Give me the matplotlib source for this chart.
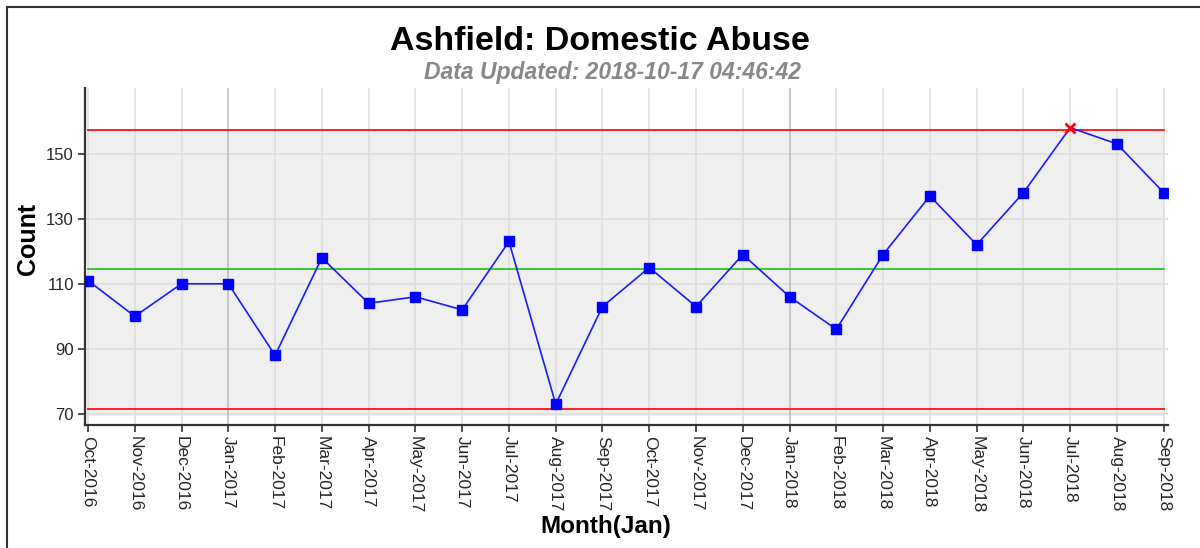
import matplotlib.pyplot as plt
from matplotlib.lines import Line2D

plt.rcParams['font.family'] = ['Liberation Sans', 'DejaVu Sans']

# данные
months = ['Oct-2016', 'Nov-2016', 'Dec-2016', 'Jan-2017', 'Feb-2017', 'Mar-2017',
          'Apr-2017', 'May-2017', 'Jun-2017', 'Jul-2017', 'Aug-2017', 'Sep-2017',
          'Oct-2017', 'Nov-2017', 'Dec-2017', 'Jan-2018', 'Feb-2018', 'Mar-2018',
          'Apr-2018', 'May-2018', 'Jun-2018', 'Jul-2018', 'Aug-2018', 'Sep-2018']
counts = [111, 100, 110, 110, 88, 118, 104, 106, 102, 123, 73, 103,
          115, 103, 119, 106, 96, 119, 137, 122, 138, 158, 153, 138]
centre = 114.4
upper = 157.3
lower = 71.5
y_ticks = [70, 90, 110, 130, 150]

title = 'Ashfield: Domestic Abuse'
subtitle = 'Data Updated: 2018-10-17 04:46:42'

fig = plt.figure(figsize=(12, 5.48), dpi=100)
ax = fig.add_axes([0.0708, 0.2245, 0.9025, 0.615])

x = list(range(len(months)))
n_last = len(months) - 1

# серая зона между контрольными пределами
ax.fill_between([0, n_last], 69.5, upper, color='#efefef', zorder=0, lw=0)

# сетка
for yt in y_ticks:
    ax.axhline(yt, color='#dedede', lw=1.2, zorder=1)
for i, m in enumerate(months):
    c = '#bdbdbd' if m.startswith('Jan') else '#dedede'
    ax.axvline(i, color=c, lw=1.2, zorder=1)

ax.plot([0, n_last], [upper, upper], color='#ff2020', lw=1.4, zorder=2)
ax.plot([0, n_last], [lower, lower], color='#ff2020', lw=1.4, zorder=2)
ax.plot([0, n_last], [centre, centre], color='#33cc33', lw=1.4, zorder=2)

ax.plot(x, counts, color='#1a1aff', lw=1.2, zorder=3)
inside = [i for i in x if lower <= counts[i] <= upper]
outside = [i for i in x if not (lower <= counts[i] <= upper)]
ax.plot(inside, [counts[i] for i in inside], ls='none', marker='s', ms=7.5,
        color='#0000ff', zorder=4)
ax.plot(outside, [counts[i] for i in outside], ls='none', marker='x', ms=7,
        mew=2, color='#ff0000', zorder=4)

ax.set_xlim(-0.065, n_last + 0.09)
ax.set_ylim(66.6, 170.2)
ax.set_xticks(x)
ax.set_xticklabels(months, rotation=270, fontsize=12.5, color='#262626')
ax.set_yticks(y_ticks)
ax.set_yticklabels([str(v) for v in y_ticks], fontsize=12, color='#262626')
ax.tick_params(direction='out', length=5, width=1.2, color='#333333', pad=3)

ax.set_facecolor('white')
for s in ['top', 'right']:
    ax.spines[s].set_visible(False)
for s in ['left', 'bottom']:
    ax.spines[s].set_color('#333333')
    ax.spines[s].set_linewidth(1.6)

fig.text(0.5, 0.924, title, ha='center', va='center', fontsize=24.5,
         fontweight='bold', color='black')
fig.text(612 / 1200, 0.868, subtitle, ha='center', va='center', fontsize=16.5,
         fontweight='bold', fontstyle='italic', color='#888888')
fig.text(28 / 1200, 1 - 239 / 548, 'Count', rotation=90, ha='center', va='center',
         fontsize=18, fontweight='bold')
fig.text(606 / 1200, 1 - 527 / 548, 'Month(Jan)', ha='center', va='center',
         fontsize=17.5, fontweight='bold')

# рамка слева и сверху
fig.add_artist(Line2D([7 / 1200, 7 / 1200], [0, 1 - 7 / 548], color='#333333', lw=1.5))
fig.add_artist(Line2D([7 / 1200, 1], [1 - 7 / 548, 1 - 7 / 548], color='#333333', lw=1.5))

plt.savefig('out.png', dpi=100)
plt.close()
